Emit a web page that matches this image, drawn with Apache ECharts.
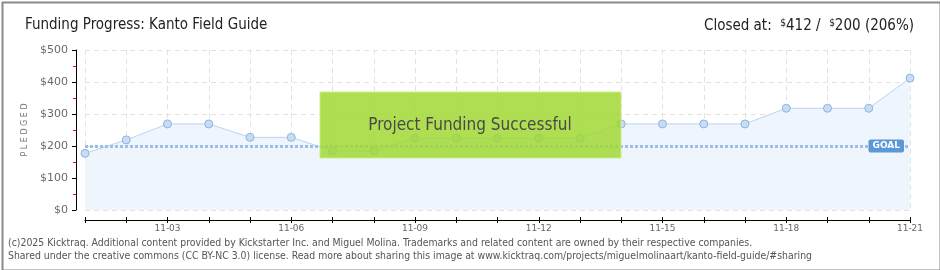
<!DOCTYPE html>
<html><head><meta charset="utf-8">
<script src="https://cdn.jsdelivr.net/npm/echarts@6/dist/echarts.min.js"></script>
<style>html,body{margin:0;padding:0;background:#fff}#c{width:940px;height:270px}</style>
</head><body><div id="c"></div>
<script>
const categories = ['11-01','11-02','11-03','11-04','11-05','11-06','11-07','11-08','11-09','11-10','11-11','11-12','11-13','11-14','11-15','11-16','11-17','11-18','11-19','11-20','11-21'];
const pledged = [177,219,269,269,227,227,185,185,224,224,224,224,224,269,269,269,269,318,318,318,412];
const goal = 200;
const closedAt = 412;
const titleText = 'Funding Progress: Kanto Field Guide';
const bannerText = 'Project Funding Successful';
const footerLines = [
 '(c)2025 Kicktraq. Additional content provided by Kickstarter Inc. and Miguel Molina. Trademarks and related content are owned by their respective companies.',
 'Shared under the creative commons (CC BY-NC 3.0) license. Read more about sharing this image at www.kicktraq.com/projects/miguelmolinaart/kanto-field-guide/#sharing'
];
const FONT = '"Liberation Sans Narrow","DejaVu Sans Condensed","Noto Sans",sans-serif';
const pct = Math.round(closedAt / goal * 100);
const chart = echarts.init(document.getElementById('c'), null, {renderer:'canvas'});
const labelEvery = (i) => (i + 1) % 3 === 0;
chart.setOption({
  animation:false,
  backgroundColor:'#fff',
  grid:{left:85,right:30,top:50,bottom:60},
  title:[
    {text:titleText,left:20,top:13,textStyle:{fontFamily:FONT,fontSize:15,fontWeight:'normal',color:'#222'}},
    {text:'{l|Closed at:  }{s|$}{l|' + closedAt + ' /  }{s|$}{l|' + goal + ' (' + pct + '%)}',right:21,top:13,
     textStyle:{fontWeight:'normal',rich:{l:{fontFamily:FONT,fontSize:15,fontWeight:'normal',color:'#222'},s:{fontFamily:FONT,fontSize:10,fontWeight:'normal',color:'#222',verticalAlign:'top',padding:[0,0,6,0]}}}}
  ],
  xAxis:[{
    type:'category',data:categories,boundaryGap:false,position:'bottom',offset:10,
    axisLine:{show:true,onZero:false,lineStyle:{color:'#000',width:1}},
    axisTick:{show:true,interval:0,length:3,lineStyle:{color:'#000'}},
    axisLabel:{interval:(i)=>labelEvery(i),color:'#666',fontFamily:'"DejaVu Sans",sans-serif',fontSize:9,margin:4},
    splitLine:{show:true,interval:0,lineStyle:{color:'#e2e2e2',type:[5,4]}}
  },{
    type:'category',data:categories,boundaryGap:false,position:'bottom',offset:10,
    axisLine:{show:false,onZero:false},
    axisTick:{show:true,inside:true,interval:0,length:3,lineStyle:{color:'#000'}},
    axisLabel:{show:false},splitLine:{show:false}
  }],
  yAxis:{
    type:'value',min:0,max:500,interval:100,offset:9,
    name:'P L E D G E D',nameLocation:'middle',nameGap:36,nameRotate:90,
    nameTextStyle:{color:'#777',fontFamily:'"DejaVu Sans",sans-serif',fontSize:8},
    axisLine:{show:true,onZero:false,lineStyle:{color:'#000',width:1}},
    axisTick:{show:true,length:4,lineStyle:{color:'#000'}},
    minorTick:{show:true,splitNumber:2,length:3,lineStyle:{color:'#f00'}},
    axisLabel:{formatter:(v)=>'$'+v,color:'#6a6a6a',fontFamily:'"DejaVu Sans",sans-serif',fontSize:11,margin:8},
    splitLine:{show:true,lineStyle:{color:'#e2e2e2',type:[5,4]}}
  },
  series:[{
    type:'line',data:pledged,xAxisIndex:0,
    symbol:'circle',symbolSize:8,
    lineStyle:{color:'#b9d5f3',width:1},
    itemStyle:{color:'#c5ddf6',borderColor:'#93b3d9',borderWidth:1},
    areaStyle:{color:'#eef5fd',opacity:1},
    markLine:{
      silent:true,symbol:'none',
      lineStyle:{color:'#9dbfe4',width:3,type:[3,2]},
      label:{show:true,position:'insideEnd',formatter:'GOAL',color:'#fff',backgroundColor:'#5a98d8',
        fontFamily:'"DejaVu Sans",sans-serif',fontSize:9,fontWeight:'bold',padding:[2,4,2,4],borderRadius:2,distance:[6,-7]},
      data:[{yAxis:goal}]
    },
    z:2
  }],
  graphic:[
    {type:'rect',left:0,top:0,shape:{x:1,y:1,width:938,height:268},style:{fill:'none',stroke:'#8a8a8a',lineWidth:2},z:100,silent:true},
    {type:'rect',z:50,shape:{x:320,y:92,width:301,height:66},style:{fill:'rgba(160,216,50,0.84)',stroke:'rgba(200,238,130,0.9)',lineWidth:1}},
    {type:'text',z:51,style:{x:470,y:126,text:bannerText,align:'center',verticalAlign:'middle',fill:'#4a4a4a',
      font:'17px '+FONT,textShadowColor:'#fff',textShadowOffsetX:1,textShadowOffsetY:1,textShadowBlur:0}},
    {type:'text',z:51,style:{x:8,y:238,text:footerLines[0],fill:'#555',font:'10.4px '+FONT}},
    {type:'text',z:51,style:{x:8,y:251,text:footerLines[1],fill:'#555',font:'10.4px '+FONT}}
  ]
});
</script></body></html>
